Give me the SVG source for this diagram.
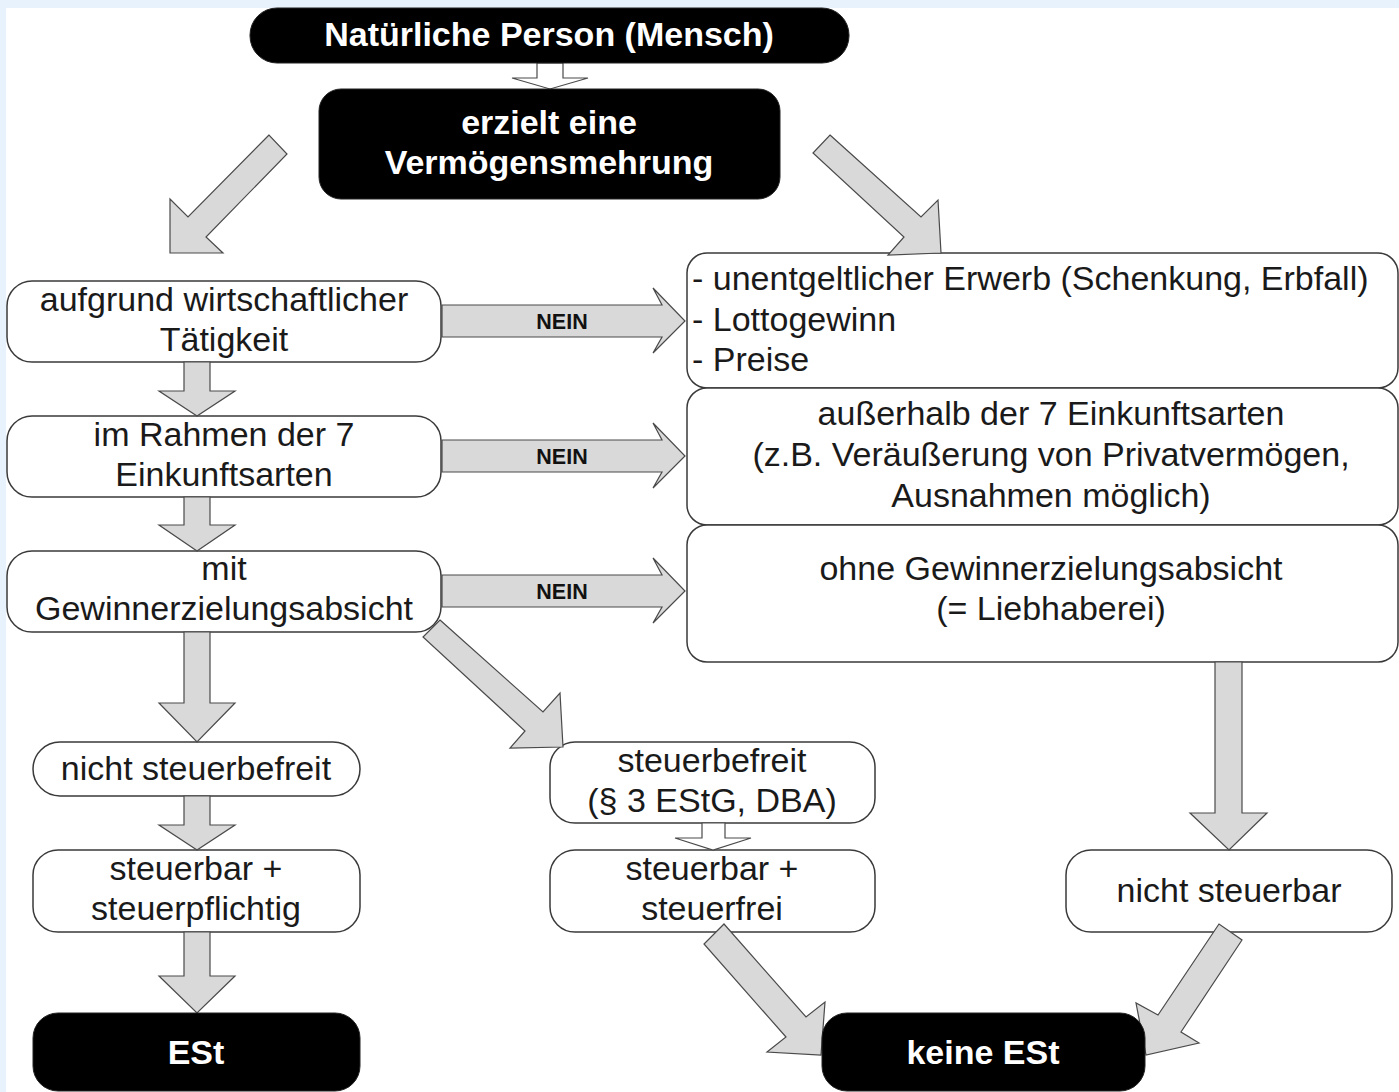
<svg xmlns="http://www.w3.org/2000/svg" width="1399" height="1092" viewBox="0 0 1399 1092">
<style>
.box{fill:#fff;stroke:#3a3a3a;stroke-width:1.5}
.dark{fill:#000;stroke:#222;stroke-width:1}
.arrow{fill:#d9d9d9;stroke:#4a4a4a;stroke-width:1.2;stroke-linejoin:miter}
.hollow{fill:#fff;stroke:#4a4a4a;stroke-width:1.2}
.t{font-family:"Liberation Sans",Arial,sans-serif;font-size:34px;fill:#1a1a1a;text-anchor:middle}
.tl{text-anchor:start}
.w{fill:#fff;font-weight:bold}
.nein{font-family:"Liberation Sans",Arial,sans-serif;font-size:21.5px;font-weight:bold;fill:#111;text-anchor:middle}
</style>
<rect x="0" y="0" width="1399" height="1092" fill="#e8f2fc"/>
<rect x="6" y="8" width="1393" height="1084" fill="#fff"/>

<g id="n-taetigkeit"><rect class="box" x="7" y="281" width="434" height="81" rx="25"/><text class="t" x="224" y="311">aufgrund wirtschaftlicher</text><text class="t" x="224" y="351">Tätigkeit</text></g>
<g id="n-einkunftsarten"><rect class="box" x="7" y="416" width="434" height="81" rx="25"/><text class="t" x="224" y="446">im Rahmen der 7</text><text class="t" x="224" y="486">Einkunftsarten</text></g>
<g id="n-gewinn"><rect class="box" x="7" y="551" width="434" height="81" rx="25"/><text class="t" x="224" y="580">mit</text><text class="t" x="224" y="620">Gewinnerzielungsabsicht</text></g>
<g id="n-unentgeltlich"><rect class="box" x="687" y="253" width="711" height="135" rx="20"/><text class="t tl" x="692" y="290">- unentgeltlicher Erwerb (Schenkung, Erbfall)</text><text class="t tl" x="692" y="331">- Lottogewinn</text><text class="t tl" x="692" y="371">- Preise</text></g>
<g id="n-ausserhalb"><rect class="box" x="687" y="388" width="711" height="137" rx="20"/><text class="t" x="1051" y="425">außerhalb der 7 Einkunftsarten</text><text class="t" x="1051" y="466">(z.B. Veräußerung von Privatvermögen,</text><text class="t" x="1051" y="507">Ausnahmen möglich)</text></g>
<g id="n-liebhaberei"><rect class="box" x="687" y="525" width="711" height="137" rx="20"/><text class="t" x="1051" y="580">ohne Gewinnerzielungsabsicht</text><text class="t" x="1051" y="620">(= Liebhaberei)</text></g>
<g id="n-nicht-befreit"><rect class="box" x="33" y="742" width="327" height="54" rx="27"/><text class="t" x="196" y="780">nicht steuerbefreit</text></g>
<g id="n-pflichtig"><rect class="box" x="33" y="850" width="327" height="82" rx="25"/><text class="t" x="196" y="880">steuerbar +</text><text class="t" x="196" y="920">steuerpflichtig</text></g>
<g id="n-befreit"><rect class="box" x="550" y="742" width="325" height="81" rx="25"/><text class="t" x="712" y="772">steuerbefreit</text><text class="t" x="712" y="812">(§ 3 EStG, DBA)</text></g>
<g id="n-steuerfrei"><rect class="box" x="550" y="850" width="325" height="82" rx="25"/><text class="t" x="712" y="880">steuerbar +</text><text class="t" x="712" y="920">steuerfrei</text></g>
<g id="n-nicht-steuerbar"><rect class="box" x="1066" y="850" width="326" height="82" rx="25"/><text class="t" x="1229" y="902">nicht steuerbar</text></g>

<g id="connectors">
<path class="hollow" d="M537,63 L563,63 L563,78 L588,78 L550,89 L512,78 L537,78 Z"/>
<path class="hollow" d="M702,823 L725,823 L725,838 L751,838 L713,850 L675,838 L702,838 Z"/>
<polygon class="arrow" points="269,135 188,217 170,199 170,253 223,253 206,237 287,154"/>
<polygon class="arrow" points="830,135 921,217 938,200 941,253 888,255 904,237 813,153"/>
<polygon class="arrow" points="442,305 662,305 653,288 685,321 653,353 662,337 442,337"/>
<polygon class="arrow" points="442,440 662,440 653,423 685,456 653,488 662,472 442,472"/>
<polygon class="arrow" points="442,575 662,575 653,558 685,591 653,623 662,607 442,607"/>
<path class="arrow" d="M184,362 L210,362 L210,391 L235,391 L197,416 L159,391 L184,391 Z"/>
<path class="arrow" d="M184,497 L210,497 L210,525 L235,525 L197,551 L159,525 L184,525 Z"/>
<path class="arrow" d="M184,632 L210,632 L210,703 L235,703 L197,742 L159,703 L184,703 Z"/>
<path class="arrow" d="M184,796 L210,796 L210,825 L235,825 L197,850 L159,825 L184,825 Z"/>
<path class="arrow" d="M184,932 L210,932 L210,976 L235,976 L197,1013 L159,976 L184,976 Z"/>
<polygon class="arrow" points="440,620 543,712 560,693 563,747 510,748 525,731 423,637"/>
<path class="arrow" d="M1215,662 L1242,662 L1242,813 L1267,813 L1229,850 L1190,813 L1215,813 Z"/>
<polygon class="arrow" points="724,924 806,1017 825,1002 821,1055 767,1052 786,1037 704,944"/>
<polygon class="arrow" points="1219,924 1158,1015 1136,1003 1146,1055 1199,1043 1181,1032 1242,940"/>
<text class="nein" x="562" y="329">NEIN</text>
<text class="nein" x="562" y="464">NEIN</text>
<text class="nein" x="562" y="599">NEIN</text>
</g>

<g id="n-person"><rect class="dark" x="250" y="8" width="599" height="55" rx="27"/><text class="t w" x="549" y="46">Natürliche Person (Mensch)</text></g>
<g id="n-vermoegen"><rect class="dark" x="319" y="89" width="461" height="110" rx="22"/><text class="t w" x="549" y="134">erzielt eine</text><text class="t w" x="549" y="174">Vermögensmehrung</text></g>
<g id="n-est"><rect class="dark" x="33" y="1013" width="327" height="78" rx="25"/><text class="t w" x="196" y="1064">ESt</text></g>
<g id="n-keine-est"><rect class="dark" x="822" y="1013" width="323" height="78" rx="25"/><text class="t w" x="983" y="1064">keine ESt</text></g>
</svg>
